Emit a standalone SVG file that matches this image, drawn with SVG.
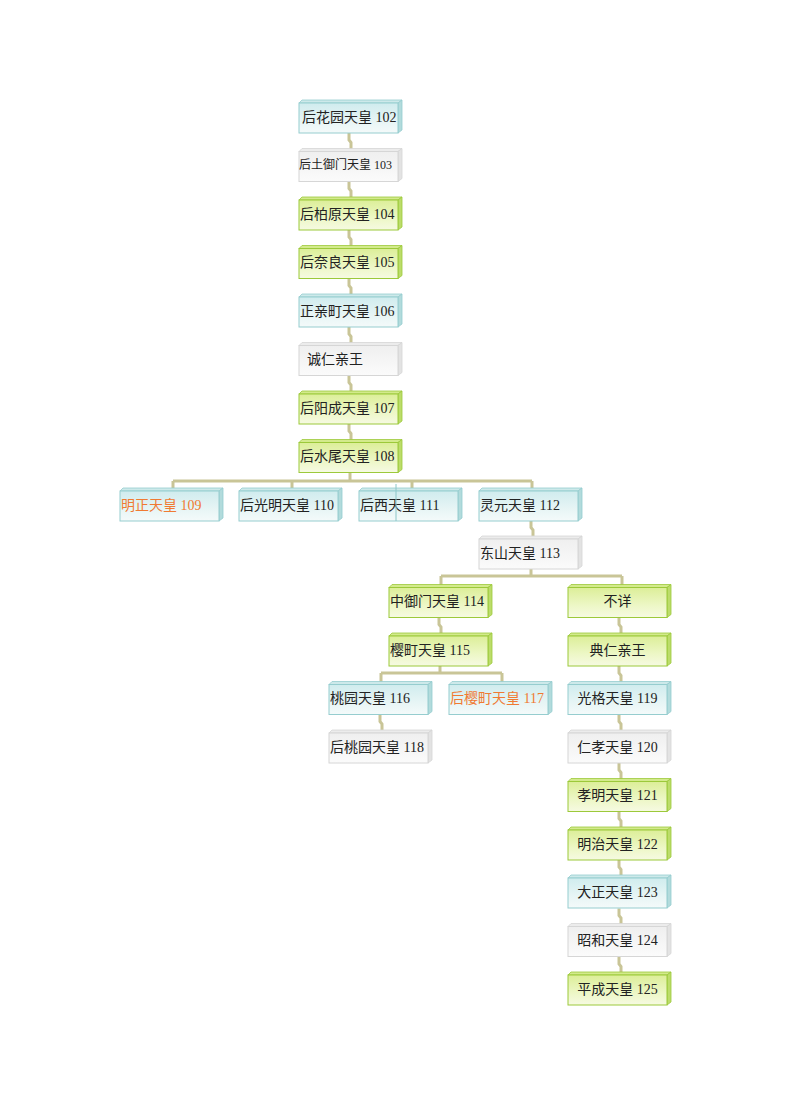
<svg xmlns="http://www.w3.org/2000/svg" width="792" height="1120" viewBox="0 0 792 1120">
<defs>
<linearGradient id="gT" x1="0" y1="0" x2="0" y2="1"><stop offset="0" stop-color="#d0ecee"/><stop offset="0.6" stop-color="#e7f5f5"/><stop offset="1" stop-color="#f4fafa"/></linearGradient>
<linearGradient id="gG" x1="0" y1="0" x2="0" y2="1"><stop offset="0" stop-color="#dcee98"/><stop offset="0.6" stop-color="#edf7c6"/><stop offset="1" stop-color="#f6fae2"/></linearGradient>
<linearGradient id="gW" x1="0" y1="0" x2="0" y2="1"><stop offset="0" stop-color="#efefef"/><stop offset="1" stop-color="#fbfbfb"/></linearGradient>
</defs>
<style>
.t .f{fill:url(#gT);stroke:#96cdcf;stroke-width:1}
.t .s{fill:#b2dbdc;stroke:#96cdcf;stroke-width:0.8}
.t .p{fill:#cde9ea;stroke:#96cdcf;stroke-width:0.8}
.g .f{fill:url(#gG);stroke:#9cc93a;stroke-width:1}
.g .s{fill:#bcdc6a;stroke:#9cc93a;stroke-width:0.8}
.g .p{fill:#d3ea8c;stroke:#9cc93a;stroke-width:0.8}
.w .f{fill:url(#gW);stroke:#d6d6d6;stroke-width:1}
.w .s{fill:#e3e3e3;stroke:#d6d6d6;stroke-width:0.8}
.w .p{fill:#ececec;stroke:#d6d6d6;stroke-width:0.8}
text{font-family:"Liberation Serif","Noto Sans CJK SC",serif;font-size:14px;fill:#222}
text.o{fill:#f07a32}
text.m{text-anchor:middle}
.c{fill:none;stroke:#c9c597;stroke-width:3}
</style>
<g id="connectors">
<path class="c" d="M349,133 V140 L351,142.5 V149"/>
<path class="c" d="M349,181.5 V188.5 L351,191 V197.5"/>
<path class="c" d="M349,230 V237 L351,239.5 V246"/>
<path class="c" d="M349,278.5 V285.5 L351,288 V294.5"/>
<path class="c" d="M349,327 V334 L351,336.5 V343"/>
<path class="c" d="M349,375.5 V382.5 L351,385 V391.5"/>
<path class="c" d="M349,424 V431 L351,433.5 V440"/>
<path class="c" d="M350,472 V481 M173,481 H532 M173,481 V488 M292,481 V488 M412,481 V488 M532,481 V488"/>
<path class="c" d="M531,520.5 V527.5 L533,530 V537"/>
<path class="c" d="M531,569 V576 M441,576 H622 M441,576 V585 M622,576 V585"/>
<path class="c" d="M439,617.5 V624.5 L441,627 V633.5"/>
<path class="c" d="M440,666 V673 M381,673 H502 M381,673 V682 M502,673 V682"/>
<path class="c" d="M380,714.5 V721.5 L382,724 V730.5"/>
<path class="c" d="M619,617.5 V624.5 L621,627 V633.5"/>
<path class="c" d="M619,666 V673 L621,675.5 V682"/>
<path class="c" d="M619,714.5 V721.5 L621,724 V730.5"/>
<path class="c" d="M619,763 V770 L621,772.5 V779"/>
<path class="c" d="M619,811.5 V818.5 L621,821 V827.5"/>
<path class="c" d="M619,860 V867 L621,869.5 V876"/>
<path class="c" d="M619,908.5 V915.5 L621,918 V924.5"/>
<path class="c" d="M619,957 V964 L621,966.5 V973"/>
</g>
<g id="n102" class="t" transform="translate(299,100)"><path class="p" d="M0,3 L3,0 H103 L99,3 Z"/><path class="s" d="M99,3 L103,0 V30 L99,33 Z"/><rect class="f" x="0" y="3" width="99" height="30"/><text x="3" y="21.5">后花园天皇 102</text></g>
<g id="n103" class="w" transform="translate(299,148.5)"><path class="p" d="M0,3 L3,0 H103 L99,3 Z"/><path class="s" d="M99,3 L103,0 V30 L99,33 Z"/><rect class="f" x="0" y="3" width="99" height="30"/><text x="0" y="20" style="font-size:12px">后土御门天皇 103</text></g>
<g id="n104" class="g" transform="translate(299,197)"><path class="p" d="M0,3 L3,0 H103 L99,3 Z"/><path class="s" d="M99,3 L103,0 V30 L99,33 Z"/><rect class="f" x="0" y="3" width="99" height="30"/><text x="1" y="21.5">后柏原天皇 104</text></g>
<g id="n105" class="g" transform="translate(299,245.5)"><path class="p" d="M0,3 L3,0 H103 L99,3 Z"/><path class="s" d="M99,3 L103,0 V30 L99,33 Z"/><rect class="f" x="0" y="3" width="99" height="30"/><text x="1" y="21.5">后奈良天皇 105</text></g>
<g id="n106" class="t" transform="translate(299,294)"><path class="p" d="M0,3 L3,0 H103 L99,3 Z"/><path class="s" d="M99,3 L103,0 V30 L99,33 Z"/><rect class="f" x="0" y="3" width="99" height="30"/><text x="1" y="21.5">正亲町天皇 106</text></g>
<g id="nMakoto" class="w" transform="translate(299,342.5)"><path class="p" d="M0,3 L3,0 H103 L99,3 Z"/><path class="s" d="M99,3 L103,0 V30 L99,33 Z"/><rect class="f" x="0" y="3" width="99" height="30"/><text x="8" y="21.5">诚仁亲王</text></g>
<g id="n107" class="g" transform="translate(299,391)"><path class="p" d="M0,3 L3,0 H103 L99,3 Z"/><path class="s" d="M99,3 L103,0 V30 L99,33 Z"/><rect class="f" x="0" y="3" width="99" height="30"/><text x="1" y="21.5">后阳成天皇 107</text></g>
<g id="n108" class="g" transform="translate(299,439.5)"><path class="p" d="M0,3 L3,0 H103 L99,3 Z"/><path class="s" d="M99,3 L103,0 V30 L99,33 Z"/><rect class="f" x="0" y="3" width="99" height="30"/><text x="1" y="21.5">后水尾天皇 108</text></g>
<g id="n109" class="t" transform="translate(120,488)"><path class="p" d="M0,3 L3,0 H103 L99,3 Z"/><path class="s" d="M99,3 L103,0 V30 L99,33 Z"/><rect class="f" x="0" y="3" width="99" height="30"/><text class="o" x="1" y="21.5">明正天皇 109</text></g>
<g id="n110" class="t" transform="translate(239,488)"><path class="p" d="M0,3 L3,0 H103 L99,3 Z"/><path class="s" d="M99,3 L103,0 V30 L99,33 Z"/><rect class="f" x="0" y="3" width="99" height="30"/><text x="1" y="21.5">后光明天皇 110</text></g>
<g id="n111" class="t" transform="translate(359,488)"><path class="p" d="M0,3 L3,0 H103 L99,3 Z"/><path class="s" d="M99,3 L103,0 V30 L99,33 Z"/><rect class="f" x="0" y="3" width="99" height="30"/><text x="1" y="21.5">后西天皇 111</text><line x1="37" y1="-4" x2="37" y2="33" stroke="#8cc6c8" stroke-width="1"/></g>
<g id="n112" class="t" transform="translate(479,488)"><path class="p" d="M0,3 L3,0 H103 L99,3 Z"/><path class="s" d="M99,3 L103,0 V30 L99,33 Z"/><rect class="f" x="0" y="3" width="99" height="30"/><text x="1" y="21.5">灵元天皇 112</text></g>
<g id="n113" class="w" transform="translate(479,536)"><path class="p" d="M0,3 L3,0 H103 L99,3 Z"/><path class="s" d="M99,3 L103,0 V30 L99,33 Z"/><rect class="f" x="0" y="3" width="99" height="30"/><text x="1" y="21.5">东山天皇 113</text></g>
<g id="n114" class="g" transform="translate(389,584.5)"><path class="p" d="M0,3 L3,0 H103 L99,3 Z"/><path class="s" d="M99,3 L103,0 V30 L99,33 Z"/><rect class="f" x="0" y="3" width="99" height="30"/><text x="1" y="21.5">中御门天皇 114</text></g>
<g id="nFusho" class="g" transform="translate(568,584.5)"><path class="p" d="M0,3 L3,0 H103 L99,3 Z"/><path class="s" d="M99,3 L103,0 V30 L99,33 Z"/><rect class="f" x="0" y="3" width="99" height="30"/><text class="m" x="49.5" y="21.5">不详</text></g>
<g id="n115" class="g" transform="translate(389,633)"><path class="p" d="M0,3 L3,0 H103 L99,3 Z"/><path class="s" d="M99,3 L103,0 V30 L99,33 Z"/><rect class="f" x="0" y="3" width="99" height="30"/><text x="1" y="21.5">樱町天皇 115</text></g>
<g id="nSukehito" class="g" transform="translate(568,633)"><path class="p" d="M0,3 L3,0 H103 L99,3 Z"/><path class="s" d="M99,3 L103,0 V30 L99,33 Z"/><rect class="f" x="0" y="3" width="99" height="30"/><text class="m" x="49.5" y="21.5">典仁亲王</text></g>
<g id="n116" class="t" transform="translate(329,681.5)"><path class="p" d="M0,3 L3,0 H103 L99,3 Z"/><path class="s" d="M99,3 L103,0 V30 L99,33 Z"/><rect class="f" x="0" y="3" width="99" height="30"/><text x="1" y="21.5">桃园天皇 116</text></g>
<g id="n117" class="t" transform="translate(449,681.5)"><path class="p" d="M0,3 L3,0 H103 L99,3 Z"/><path class="s" d="M99,3 L103,0 V30 L99,33 Z"/><rect class="f" x="0" y="3" width="99" height="30"/><text class="o" x="1" y="21.5">后樱町天皇 117</text></g>
<g id="n118" class="w" transform="translate(329,730)"><path class="p" d="M0,3 L3,0 H103 L99,3 Z"/><path class="s" d="M99,3 L103,0 V30 L99,33 Z"/><rect class="f" x="0" y="3" width="99" height="30"/><text x="1" y="21.5">后桃园天皇 118</text></g>
<g id="n119" class="t" transform="translate(568,681.5)"><path class="p" d="M0,3 L3,0 H103 L99,3 Z"/><path class="s" d="M99,3 L103,0 V30 L99,33 Z"/><rect class="f" x="0" y="3" width="99" height="30"/><text class="m" x="49.5" y="21.5">光格天皇 119</text></g>
<g id="n120" class="w" transform="translate(568,730)"><path class="p" d="M0,3 L3,0 H103 L99,3 Z"/><path class="s" d="M99,3 L103,0 V30 L99,33 Z"/><rect class="f" x="0" y="3" width="99" height="30"/><text class="m" x="49.5" y="21.5">仁孝天皇 120</text></g>
<g id="n121" class="g" transform="translate(568,778.5)"><path class="p" d="M0,3 L3,0 H103 L99,3 Z"/><path class="s" d="M99,3 L103,0 V30 L99,33 Z"/><rect class="f" x="0" y="3" width="99" height="30"/><text class="m" x="49.5" y="21.5">孝明天皇 121</text></g>
<g id="n122" class="g" transform="translate(568,827)"><path class="p" d="M0,3 L3,0 H103 L99,3 Z"/><path class="s" d="M99,3 L103,0 V30 L99,33 Z"/><rect class="f" x="0" y="3" width="99" height="30"/><text class="m" x="49.5" y="21.5">明治天皇 122</text></g>
<g id="n123" class="t" transform="translate(568,875)"><path class="p" d="M0,3 L3,0 H103 L99,3 Z"/><path class="s" d="M99,3 L103,0 V30 L99,33 Z"/><rect class="f" x="0" y="3" width="99" height="30"/><text class="m" x="49.5" y="21.5">大正天皇 123</text></g>
<g id="n124" class="w" transform="translate(568,923.5)"><path class="p" d="M0,3 L3,0 H103 L99,3 Z"/><path class="s" d="M99,3 L103,0 V30 L99,33 Z"/><rect class="f" x="0" y="3" width="99" height="30"/><text class="m" x="49.5" y="21.5">昭和天皇 124</text></g>
<g id="n125" class="g" transform="translate(568,972)"><path class="p" d="M0,3 L3,0 H103 L99,3 Z"/><path class="s" d="M99,3 L103,0 V30 L99,33 Z"/><rect class="f" x="0" y="3" width="99" height="30"/><text class="m" x="49.5" y="21.5">平成天皇 125</text></g>
</svg>
